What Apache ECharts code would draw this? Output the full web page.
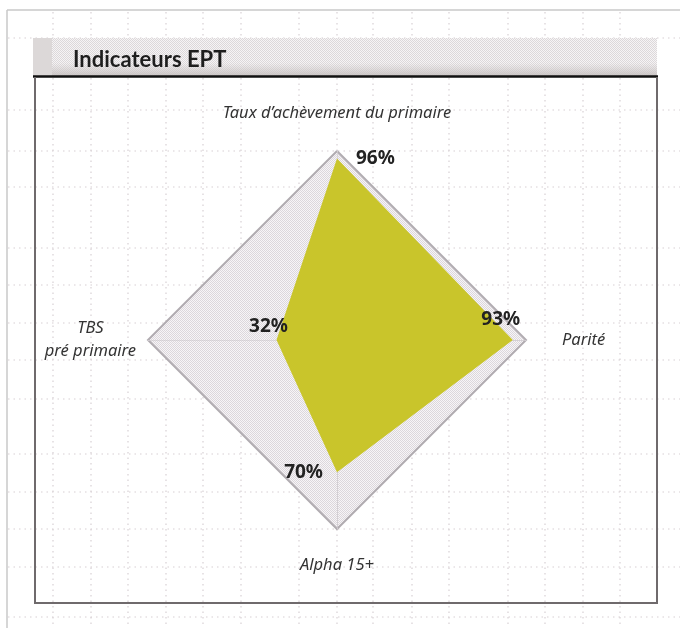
<!DOCTYPE html>
<html>
<head>
<meta charset="utf-8">
<script src="https://cdn.jsdelivr.net/npm/echarts@6/dist/echarts.min.js"></script>
<style>
  html, body { margin: 0; padding: 0; background: #ffffff; }
  #chart { width: 680px; height: 628px; }
</style>
</head>
<body>
<div id="chart"></div>
<script>
// ---- data ----
const titleText = 'Indicateurs EPT';
const indicatorNames = ["Taux d\u2019achèvement du primaire", 'TBS\npré primaire', 'Alpha 15+', 'Parité'];
const indicatorMax = [100, 100, 100, 100];
const values = [96, 32, 70, 93];
const valueSuffix = '%';

// ---- decoration helpers ----
function makeChecker(a, b) {
  const c = document.createElement('canvas');
  c.width = 2; c.height = 2;
  const g = c.getContext('2d');
  g.fillStyle = a; g.fillRect(0, 0, 2, 2);
  g.fillStyle = b;
  g.fillRect(0, 0, 1, 1); g.fillRect(1, 1, 1, 1);
  return c;
}
const diamondPattern = makeChecker('#f7f5f7', '#dcd7dc');
const headerPattern = makeChecker('#f6f4f5', '#dcd8da');

const gridX = [53, 91, 128, 166, 203, 241, 299, 337, 373, 412, 449, 508, 545, 583, 620];
const gridY = [38, 110, 151, 187, 248, 285, 323, 360, 399, 454, 492, 529, 567, 617];

const graphics = [];
gridX.forEach(x => graphics.push({
  type: 'line', z: -20, silent: true,
  shape: { x1: x, y1: 12, x2: x, y2: 628 },
  style: { stroke: '#d8d0d4', lineWidth: 1.2, lineDash: [1.5, 4] }
}));
gridY.forEach(y => graphics.push({
  type: 'line', z: -20, silent: true,
  shape: { x1: 8, y1: y, x2: 680, y2: y },
  style: { stroke: '#d8d0d4', lineWidth: 1.2, lineDash: [1.5, 4] }
}));
// outer page border (top, left)
graphics.push({ type: 'line', z: -15, silent: true, shape: { x1: 7, y1: 10, x2: 680, y2: 10 }, style: { stroke: '#c8c8c8', lineWidth: 1.5 } });
graphics.push({ type: 'line', z: -15, silent: true, shape: { x1: 7, y1: 10, x2: 7, y2: 628 }, style: { stroke: '#c8c8c8', lineWidth: 1.5 } });
// header band
graphics.push({ type: 'rect', z: -10, silent: true, shape: { x: 33, y: 38, width: 624, height: 38 },
  style: { fill: { image: headerPattern, repeat: 'repeat' } } });
graphics.push({ type: 'rect', z: -9, silent: true, shape: { x: 33, y: 63, width: 624, height: 13 },
  style: { fill: { type: 'linear', x: 0, y: 0, x2: 0, y2: 1, colorStops: [
    { offset: 0, color: 'rgba(205,200,200,0)' }, { offset: 1, color: 'rgba(200,194,194,0.95)' } ] } } });
graphics.push({ type: 'rect', z: -8, silent: true, shape: { x: 33, y: 38, width: 19, height: 38 },
  style: { fill: '#dcd8d8' } });
graphics.push({ type: 'line', z: -7, silent: true, shape: { x1: 33, y1: 76.5, x2: 658, y2: 76.5 },
  style: { stroke: '#111111', lineWidth: 2.5 } });
// frame
graphics.push({ type: 'polyline', z: -7, silent: true,
  shape: { points: [[35, 77], [35, 603], [657, 603], [657, 77]] },
  style: { stroke: '#6f6a6c', lineWidth: 2, fill: null } });

// ---- labels per vertex ----
const labelPos = [
  { position: 'right', distance: 18, offset: [0, 0] },
  { position: 'top', distance: 3, offset: [-8, 0] },
  { position: 'left', distance: 13, offset: [0, 0] },
  { position: 'top', distance: 10, offset: [-12, 0] }
];
const namePad = [[0, 0, 28, 0], [0, 0, 0, 0], [26, 0, 0, 0], [0, 0, 0, 24]];

const seriesData = [{
  value: values,
  name: 'EPT',
  symbol: 'none',
  lineStyle: { width: 0 },
  areaStyle: { color: '#c9c52b', opacity: 1 }
}];
labelPos.forEach((lp, k) => {
  seriesData.push({
    value: values,
    name: 'lbl' + k,
    symbol: 'circle',
    symbolSize: 1,
    itemStyle: { color: 'transparent', borderColor: 'transparent' },
    lineStyle: { width: 0, opacity: 0 },
    label: {
      show: true,
      position: lp.position,
      distance: lp.distance,
      offset: lp.offset,
      color: '#222222',
      fontSize: 19,
      fontWeight: 'bold',
      fontFamily: 'Noto Sans',
      formatter: p => (p.dimensionIndex === k ? p.value + valueSuffix : '')
    }
  });
});

const chart = echarts.init(document.getElementById('chart'), null, { renderer: 'canvas' });
chart.setOption({
  animation: false,
  backgroundColor: '#ffffff',
  title: {
    text: titleText, left: 68, top: 44,
    textStyle: { fontFamily: 'Lato', fontSize: 22, fontWeight: 'bold', color: '#1e1e1e' }
  },
  graphic: { elements: graphics },
  radar: {
    center: [337, 340],
    radius: 189,
    startAngle: 90,
    shape: 'polygon',
    splitNumber: 1,
    nameGap: 12,
    indicator: indicatorNames.map((n, i) => ({ name: n, max: indicatorMax[i], min: 0 })),
    axisName: {
      color: '#333333',
      fontSize: 16.5,
      fontStyle: 'italic',
      fontFamily: 'Noto Sans',
      formatter: function (name) {
        const i = indicatorNames.indexOf(name);
        return name.split('\n').map(s => '{n' + i + '|' + s + '}').join('\n');
      },
      rich: Object.fromEntries(namePad.map((p, i) => ['n' + i, {
        color: '#333333', fontSize: 16.5, fontStyle: 'italic', fontFamily: 'Noto Sans',
        padding: p, align: 'center', lineHeight: 23
      }]))
    },
    splitLine: { lineStyle: { color: '#b1acb1', width: 2 } },
    splitArea: { areaStyle: { color: [{ image: diamondPattern, repeat: 'repeat' }] } },
    axisLine: { lineStyle: { color: '#d2ced2', width: 1, type: 'dotted' } }
  },
  series: [{
    type: 'radar',
    silent: true,
    emphasis: { disabled: true },
    data: seriesData
  }]
});
</script>
</body>
</html>
